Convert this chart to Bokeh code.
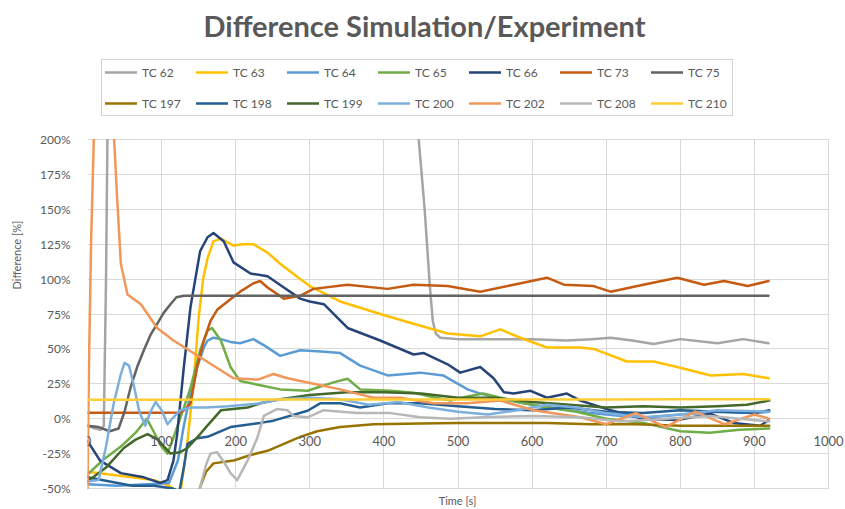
from bokeh.plotting import figure
from bokeh.models import (Range1d, FixedTicker, Legend, LegendItem, Label, LabelSet,
                          ColumnDataSource, Grid, BoxAnnotation)
from bokeh.core.properties import value
from bokeh.embed import file_html
from bokeh.resources import INLINE

# ---------------- data ----------------
x_ticks = [0, 100, 200, 300, 400, 500, 600, 700, 800, 900, 1000]
x_tick_labels = ["0", "100", "200", "300", "400", "500", "600", "700", "800", "900", "1000"]
y_ticks = [-50, -25, 0, 25, 50, 75, 100, 125, 150, 175, 200]

tc62_x = [0, 10, 18, 22, 25, 28, 425, 447, 455, 462, 466, 470, 476, 500, 530, 557, 600, 647, 680, 706, 735, 764, 800, 850, 885, 919]
tc62_y = [-5, -7, -8, -5, 100, 260, 260, 200, 150, 95, 70, 61, 58, 57, 57, 57, 57, 56, 57, 58, 56, 53.5, 57, 54, 57, 54]

tc63_x = [0, 30, 60, 90, 110, 120, 126, 135, 143, 150, 156, 162, 170, 180, 197, 210, 224, 243, 260, 287, 300, 341, 395, 440, 486, 530, 557, 584, 620, 665, 683, 728, 764, 796, 841, 885, 919]
tc63_y = [-38, -40, -42, -44, -48, -52, -51, -16, 25, 72, 100, 115, 127, 129, 124, 125, 125, 119, 111, 100, 95, 84, 75, 68, 61, 59, 64, 58, 51, 51, 50, 41, 41, 37, 31, 32, 29]

tc64_x = [0, 40, 80, 110, 122, 130, 139, 148, 157, 162, 170, 180, 193, 206, 224, 240, 260, 287, 320, 341, 368, 405, 449, 480, 513, 530, 560, 600, 640, 680, 720, 760, 800, 850, 900, 920]
tc64_y = [-47, -48, -47, -46, -30, -5, 18, 37, 51, 56, 58, 57, 55, 54, 57, 52, 45, 49, 48, 47, 38, 31, 33, 31, 21, 18, 14, 10, 7, 4, 2, 1, 3, 5, 4, 5]

tc65_x = [0, 20, 45, 65, 80, 90, 100, 108, 115, 125, 139, 152, 162, 168, 180, 193, 206, 233, 260, 297, 332, 351, 368, 409, 440, 470, 490, 513, 534, 580, 620, 660, 700, 750, 800, 840, 880, 920]
tc65_y = [-40, -30, -20, -10, 0, -10, -20, -25, -15, 0, 22, 49, 63, 65, 56, 37, 27, 24, 21, 20, 26, 28.6, 21, 20, 18.6, 15, 13, 16, 18, 12, 8, 5, 0, -3, -9, -10, -8, -7]

tc66_x = [0, 17, 45, 76, 98, 108, 116, 121, 130, 139, 152, 162, 170, 184, 197, 220, 243, 265, 287, 300, 319, 351, 395, 440, 454, 486, 503, 530, 548, 562, 575, 598, 620, 647, 665, 706, 750, 796, 841, 872, 908, 919]
tc66_y = [-16, -30, -39, -42, -46, -44, -30, -11, 37, 80, 120, 130, 133, 127, 112, 104, 102, 94, 86, 84, 82, 65, 56, 46, 47, 39, 33, 37, 29, 19, 18, 20, 15, 18, 13, 6, 0, -1, 3.5, -3, -5, -1]

tc73_x = [0, 50, 100, 125, 130, 139, 148, 157, 166, 175, 189, 206, 224, 233, 243, 265, 287, 305, 351, 405, 440, 486, 530, 575, 620, 643, 683, 706, 750, 796, 832, 859, 891, 919]
tc73_y = [4.3, 4.3, 4.3, 4.5, 6, 11, 37, 56, 70, 78, 84, 91, 97, 98.6, 94, 86, 88, 93, 96, 93, 96, 95, 91, 96, 101, 96, 95, 91, 96, 101, 96, 98.6, 95, 98.6]

tc75_x = [0, 15, 30, 42, 50, 58, 67, 76, 85, 94, 103, 112, 120, 130, 919]
tc75_y = [-5, -6, -9, -7, 5, 22, 37, 49, 60, 68, 76, 82, 87, 88, 88]

tc197_x = [0, 140, 147, 152, 160, 170, 197, 220, 243, 265, 287, 310, 341, 386, 449, 500, 560, 620, 680, 740, 800, 860, 920]
tc197_y = [-90, -90, -60, -49, -38, -32, -30, -26, -23, -18, -13, -9, -6, -4, -3.5, -3, -3, -3, -4, -4, -5, -5, -5]

tc198_x = [0, 30, 60, 90, 115, 124, 130, 135, 148, 162, 193, 233, 251, 297, 314, 341, 368, 405, 449, 500, 550, 600, 650, 700, 750, 800, 850, 900, 920]
tc198_y = [-42, -45, -48, -48, -50, -52, -35, -18, -14, -13, -6, -3, -1.4, 5.7, 11, 11, 8, 11, 11, 9, 7, 6, 8, 5, 4, 6, 5, 4, 6]

tc199_x = [0, 25, 49, 65, 81, 95, 112, 125, 135, 152, 165, 180, 216, 233, 260, 300, 350, 400, 450, 500, 550, 600, 650, 700, 750, 800, 850, 890, 920]
tc199_y = [-45, -35, -21, -15, -11, -15, -25, -24, -21, -11, -3, 6, 8, 11, 14, 17, 19, 19, 18, 15, 15, 12, 10, 8, 9, 8, 9, 10, 13]

tc200_x = [0, 15, 25, 35, 45, 50, 56, 62, 70, 78, 85, 92, 100, 108, 116, 125, 139, 160, 190, 233, 260, 300, 340, 380, 420, 460, 500, 540, 580, 620, 660, 700, 750, 800, 850, 920]
tc200_y = [-45, -44, -20, 10, 32, 40, 38, 25, 5, -5, 5, 12, 6, -4, 1, 6, 8, 8, 9, 11, 14, 15, 14, 10, 12, 8, 5, 3, 6, 10, 8, 4, 1, 3, 6, 5]

tc202_x = [0, 2, 5, 9, 12, 30, 34, 40, 45, 54, 72, 94, 116, 152, 197, 230, 251, 270, 297, 341, 386, 422, 467, 513, 557, 602, 665, 700, 740, 780, 820, 860, 900, 920]
tc202_y = [-50, 40, 130, 210, 260, 260, 220, 158, 111, 89, 82, 65, 56, 44, 29, 28, 32, 29, 26, 21, 15, 15, 11, 11, 13, 6, 1, -4, 4, -6, 5, -4, 3, 0]

tc208_x = [0, 140, 146, 152, 160, 166, 175, 184, 193, 202, 216, 229, 238, 256, 270, 278, 297, 318, 364, 409, 449, 490, 534, 602, 665, 720, 780, 840, 880, 920]
tc208_y = [-90, -90, -62, -49, -33, -25, -24, -31, -39, -44, -30, -14, 2, 7, 6, 2, 1, 6, 4, 4, 1, 0, 1, 2, 1, -2, 0, 2, 0, -2]

tc210_x = [0, 100, 200, 300, 400, 500, 600, 700, 800, 900, 920]
tc210_y = [13.5, 13.5, 13.7, 13.7, 13.7, 13.7, 13.8, 13.8, 13.9, 14, 14]

series_names = ["TC 62", "TC 63", "TC 64", "TC 65", "TC 66", "TC 73", "TC 75",
                "TC 197", "TC 198", "TC 199", "TC 200", "TC 202", "TC 208", "TC 210"]
series_x = [tc62_x, tc63_x, tc64_x, tc65_x, tc66_x, tc73_x, tc75_x,
            tc197_x, tc198_x, tc199_x, tc200_x, tc202_x, tc208_x, tc210_x]
series_y = [tc62_y, tc63_y, tc64_y, tc65_y, tc66_y, tc73_y, tc75_y,
            tc197_y, tc198_y, tc199_y, tc200_y, tc202_y, tc208_y, tc210_y]
series_colors = ["#A5A5A5", "#FFC000", "#5B9BD5", "#70AD47", "#264478", "#C55A11", "#636363",
                 "#997300", "#255E91", "#43682B", "#7CAFDD", "#F1975A", "#B7B7B7", "#FFCD33"]

FONT = "Lato"
TXT = "#595959"
X_MIN, X_MAX = 0, 1000
Y_MIN, Y_MAX = -50, 200

# The frame fills the canvas right of the y axis; the plot area proper is
# 87..828 px wide and 139..488 px high, the rest is covered in white.
W, H = 845, 509
LEFT, RIGHT, TOP, BOTTOM = 87, 828, 139, 488
px_per_x = (RIGHT - LEFT) / (X_MAX - X_MIN)
px_per_y = (BOTTOM - TOP) / (Y_MAX - Y_MIN)
x_end = X_MAX + (W - RIGHT) / px_per_x
y_top = Y_MAX + TOP / px_per_y
y_bot = Y_MIN - (H - BOTTOM) / px_per_y

p = figure(width=W, height=H, output_backend="svg", toolbar_location=None,
           x_range=Range1d(X_MIN, x_end), y_range=Range1d(y_bot, y_top),
           x_axis_location=None,
           min_border_left=LEFT, min_border_right=0, min_border_top=0, min_border_bottom=0,
           background_fill_color="white", border_fill_color="white",
           outline_line_color=None)

# y axis
p.yaxis.ticker = FixedTicker(ticks=y_ticks)
p.yaxis.bounds = (Y_MIN, Y_MAX)
p.yaxis.major_label_overrides = {v: f"{v}%" for v in y_ticks}
p.yaxis.axis_line_color = None
p.yaxis.major_tick_line_color = None
p.yaxis.minor_tick_line_color = None
p.yaxis.major_tick_out = 0
p.yaxis.major_label_standoff = 17
p.yaxis.major_label_text_font = FONT
p.yaxis.major_label_text_font_size = "12px"
p.yaxis.major_label_text_color = TXT
p.yaxis.axis_label = "Difference [%]"
p.yaxis.axis_label_text_font = FONT
p.yaxis.axis_label_text_font_size = "11px"
p.yaxis.axis_label_text_font_style = "normal"
p.yaxis.axis_label_text_color = TXT
p.yaxis.axis_label_standoff = 14

# grids
for g in p.ygrid:
    g.ticker = FixedTicker(ticks=y_ticks)
    g.grid_line_color = "#D9D9D9"
    g.grid_line_width = 1
if len(p.xgrid) == 0:
    p.add_layout(Grid(dimension=0, ticker=FixedTicker(ticks=x_ticks),
                      grid_line_color="#D9D9D9", grid_line_width=1))
else:
    for g in p.xgrid:
        g.ticker = FixedTicker(ticks=x_ticks)
        g.grid_line_color = "#D9D9D9"
        g.grid_line_width = 1

# white cover for the grid stubs right of the plot area
p.add_layout(BoxAnnotation(left=X_MAX + 0.8, fill_color="white", fill_alpha=1,
                           line_alpha=0, level="underlay"))

# lines
items = []
for name, xs, ys, col in zip(series_names, series_x, series_y, series_colors):
    r = p.line(xs, ys, line_color=col, line_width=2.5, line_join="round", line_cap="round")
    items.append(LegendItem(label=name, renderers=[r]))

# white covers above and below the plot area (hide off-scale line parts and grid stubs)
p.add_layout(BoxAnnotation(bottom=Y_MAX + 0.4, fill_color="white", fill_alpha=1,
                           line_alpha=0))
p.add_layout(BoxAnnotation(top=Y_MIN - 0.4, fill_color="white", fill_alpha=1,
                           line_alpha=0))

# x tick labels sitting under the 0% line
tick_src = ColumnDataSource(dict(x=x_ticks, y=[0] * len(x_ticks), t=x_tick_labels))
p.add_layout(LabelSet(x="x", y="y", text="t", source=tick_src, y_offset=-22,
                      text_align="center", text_baseline="middle",
                      text_font=value(FONT), text_font_size="13px", text_color=TXT))

# x axis title
p.add_layout(Label(x=370, y=9, x_units="screen", y_units="screen", text="Time [s]",
                   text_align="center", text_baseline="middle", text_font=FONT,
                   text_font_size="11px", text_color=TXT))

# chart title
p.add_layout(Label(x=337, y=H - 25, x_units="screen", y_units="screen",
                   text="Difference Simulation/Experiment",
                   text_align="center", text_baseline="middle", text_font=FONT,
                   text_font_size="29px", text_font_style="bold", text_color=TXT))

# legend
legend = Legend(items=items, location=(14, H - 116), orientation="horizontal",
                ncols=7, nrows=2,
                glyph_width=32, glyph_height=18, label_height=18, label_width=41,
                label_standoff=5, spacing=13, padding=3, margin=0,
                label_text_font=FONT, label_text_font_size="12px", label_text_color=TXT,
                border_line_color="#A6A6A6", border_line_width=1.5,
                background_fill_color="white", background_fill_alpha=1)
p.add_layout(legend)

open("out.html", "w").write(file_html(p, INLINE))
